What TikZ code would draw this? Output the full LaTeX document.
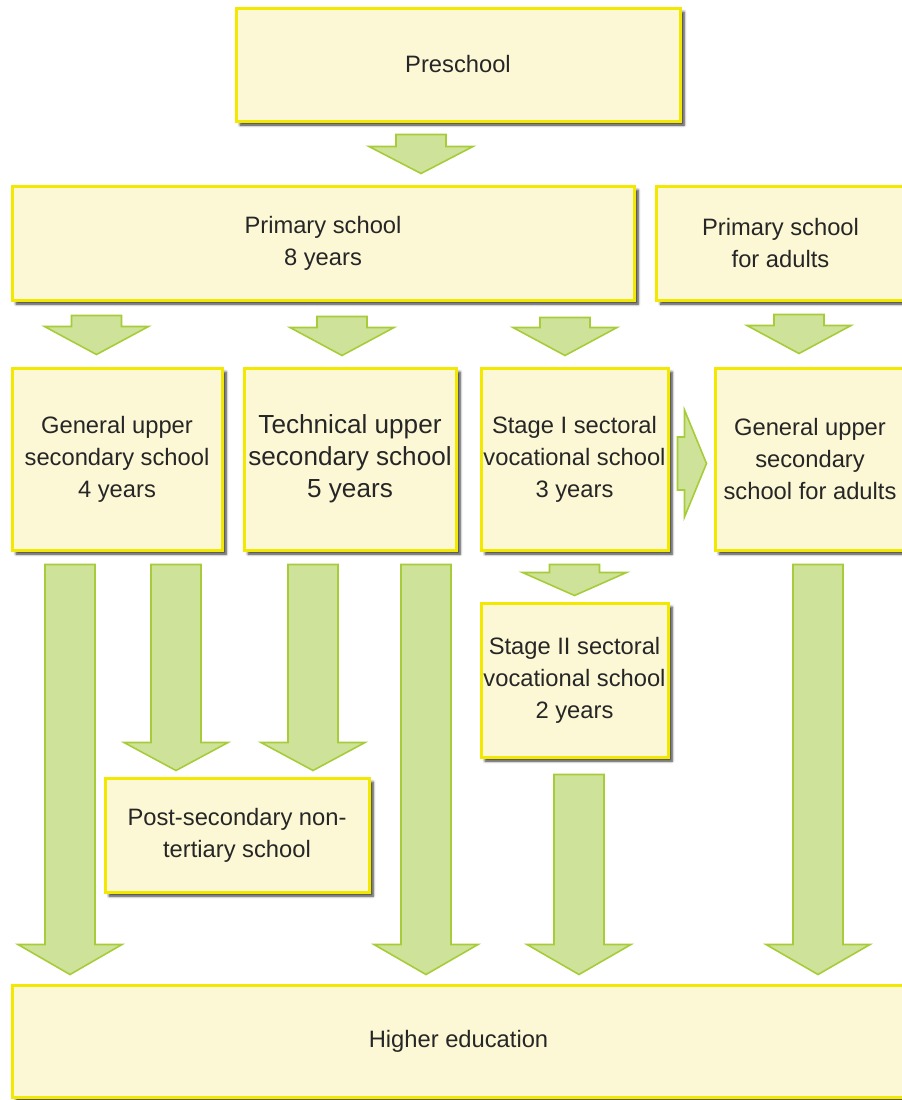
\documentclass[tikz,border=0pt]{standalone}
\usepackage{fontspec}
\setmainfont{Liberation Sans}
\usetikzlibrary{calc,shadows.blur}

\definecolor{boxfill}{RGB}{252,248,214}
\definecolor{boxline}{RGB}{242,232,0}
\definecolor{arrowfill}{RGB}{207,226,154}
\definecolor{arrowline}{RGB}{166,205,57}

\tikzset{every picture/.style={line width=0.75pt}}
\tikzset{
  school/.style={draw=boxline, fill=boxfill, line width=2.25pt, align=center, inner sep=0.75pt,
    font=\fontsize{17.8}{24}\selectfont, text=black!85,
    blur shadow={shadow xshift=3pt, shadow yshift=-3pt, shadow blur radius=2pt, shadow blur steps=6, shadow opacity=80}},
  arrowbody/.style={draw=arrowline, fill=arrowfill, line width=1.2pt, line join=miter}
}

% block arrow: from node, to node, x offset, top gap, bottom gap, head length
\newcommand{\greenarrow}[6]{%
  \coordinate (s) at ($(#1.south)+(#3,#4)$);
  \coordinate (t) at ($(s |- #2.north)+(0,-#5)$);
  \draw[arrowbody] ($(s)+(-25,0)$) -- ($(t)+(-25,-#6)$) -- ($(t)+(-52,-#6)$) -- (t) -- ($(t)+(52,-#6)$) -- ($(t)+(25,-#6)$) -- ($(s)+(25,0)$) -- cycle;}

\begin{document}
\begin{tikzpicture}[x=0.75pt,y=0.75pt,yscale=-1,xscale=1]
\useasboundingbox (0,0) rectangle (901,1100);

% Boxes
\node[school, minimum width=333pt, minimum height=84.75pt] (pre) at (458,64.5) {Preschool};
\node[school, minimum width=466.5pt, minimum height=85.5pt] (prim) at (323,243) {Primary school\\8 years};
\node[school, minimum width=186pt, minimum height=85.5pt] (primad) at (780.5,243) {Primary school\\for adults};
\node[school, minimum width=157.5pt, minimum height=136.5pt] (gen) at (117,459) {General upper\\secondary school\\4 years};
\node[school, minimum width=159pt, minimum height=136.5pt, font=\fontsize{19.6}{24}\selectfont] (tech) at (350,459) {Technical upper\\secondary school\\5 years};
\node[school, minimum width=140.25pt, minimum height=136.5pt] (st1) at (574.5,459) {Stage I sectoral\\vocational school\\3 years};
\node[school, minimum width=142.5pt, minimum height=136.5pt] (genad) at (810,459) {General upper\\secondary\\school for adults};
\node[school, minimum width=140.25pt, minimum height=115.5pt] (st2) at (574.5,680) {Stage II sectoral\\vocational school\\2 years};
\node[school, minimum width=198pt, minimum height=85.5pt] (post) at (237,835) {Post-secondary non-\\tertiary school};
\node[school, minimum width=669.75pt, minimum height=84pt] (high) at (458.5,1041) {Higher education};

% Arrows
\greenarrow{pre}{prim}{-37}{12}{11}{27}
\greenarrow{prim}{gen}{-226.5}{14}{12}{28}
\greenarrow{prim}{tech}{19}{15}{11}{28}
\greenarrow{prim}{st1}{242}{16}{11}{28}
\greenarrow{primad}{genad}{18.5}{13}{13}{28}
\greenarrow{gen}{high}{-47}{13}{9}{30}
\greenarrow{gen}{post}{59}{13}{6}{28}
\greenarrow{tech}{post}{-37}{13}{6}{28}
\greenarrow{tech}{high}{76}{13}{9}{30}
\greenarrow{st1}{st2}{0}{13}{6}{23}
\greenarrow{st2}{high}{4.5}{16}{9}{30}
\greenarrow{genad}{high}{8}{13}{9}{30}

% Stage I -> adults
\coordinate (s) at ($(st1.east)+(8,4.5)$);
\coordinate (t) at ($(genad.west |- s)+(-7,0)$);
\draw[arrowbody] ($(s)+(0,-26.5)$) -- ($(t)+(-22,-26.5)$) -- ($(t)+(-22,-53.5)$) -- (t) -- ($(t)+(-22,53.5)$) -- ($(t)+(-22,26.5)$) -- ($(s)+(0,26.5)$) -- cycle;

\end{tikzpicture}
\end{document}
